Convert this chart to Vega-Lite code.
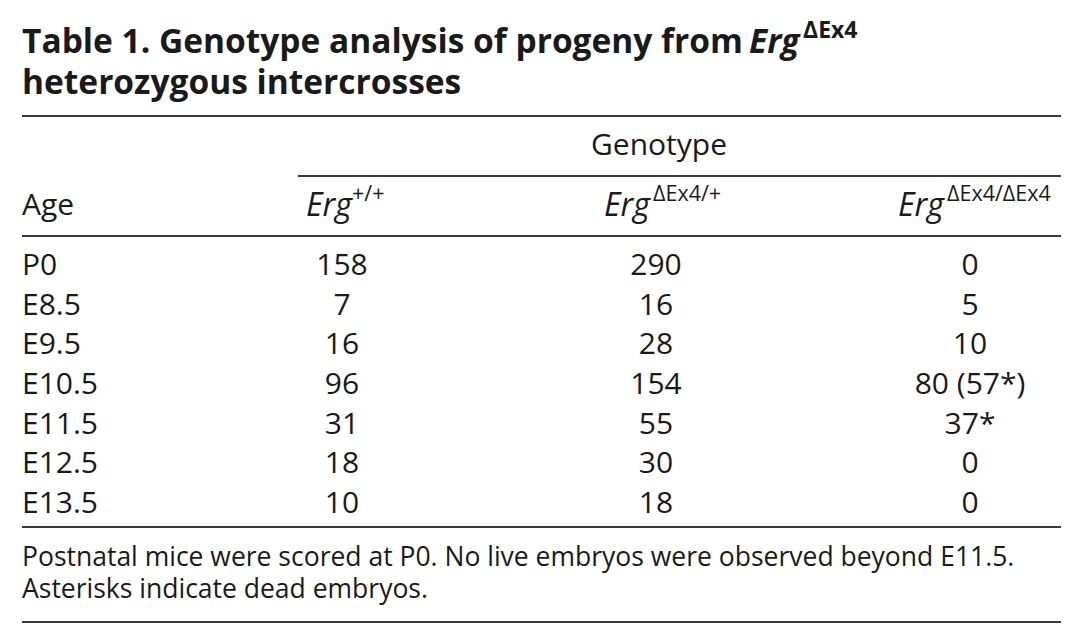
{
  "$schema": "https://vega.github.io/schema/vega-lite/v6.json",
  "width": 1039,
  "height": 639,
  "autosize": {"type": "none"},
  "padding": {"left": 22, "right": 21, "top": 0, "bottom": 0},
  "background": "white",
  "config": {
    "view": {"stroke": null},
    "axis": {"disable": true},
    "text": {"font": "Open Sans", "fontSize": 30, "color": "#1a1a1a"},
    "rule": {"color": "#3a3a3a", "strokeWidth": 2}
  },
  "datasets": {
    "title": [
      {"line": "l1", "text": "Table 1. Genotype analysis of progeny from"},
      {"line": "l2", "text": "heterozygous intercrosses"}
    ],
    "titleGene": [{"gene": "Erg", "allele": "ΔEx4"}],
    "headerRules": [{"rule": "top"}, {"rule": "head"}],
    "spanner": [{"rule": "spanner", "label": "Genotype", "from": "wt", "to": "hom", "center": "het"}],
    "columnHeads": [
      {"column": "Age", "label": "Age", "sup": ""},
      {"column": "wt", "label": "Erg", "sup": "+/+"},
      {"column": "het", "label": "Erg", "sup": "ΔEx4/+"},
      {"column": "hom", "label": "Erg", "sup": "ΔEx4/ΔEx4"}
    ],
    "counts": [
      {"age": "P0", "wt": "158", "het": "290", "hom": "0"},
      {"age": "E8.5", "wt": "7", "het": "16", "hom": "5"},
      {"age": "E9.5", "wt": "16", "het": "28", "hom": "10"},
      {"age": "E10.5", "wt": "96", "het": "154", "hom": "80 (57*)"},
      {"age": "E11.5", "wt": "31", "het": "55", "hom": "37*"},
      {"age": "E12.5", "wt": "18", "het": "30", "hom": "0"},
      {"age": "E13.5", "wt": "10", "het": "18", "hom": "0"}
    ],
    "footnote": [
      {"line": "f1", "text": "Postnatal mice were scored at P0. No live embryos were observed beyond E11.5."},
      {"line": "f2", "text": "Asterisks indicate dead embryos."}
    ],
    "bottomRules": [{"rule": "body"}, {"rule": "foot"}]
  },
  "resolve": {"scale": {"y": "independent"}},
  "layer": [
    {
      "layer": [
        {
          "data": {"name": "title"},
          "mark": {"type": "text", "align": "left", "baseline": "alphabetic", "fontWeight": "bold", "fontSize": 33.5, "dx": -6},
          "encoding": {
            "x": {"datum": "Age", "type": "nominal", "scale": {"type": "point", "domain": ["Age", "wt", "het", "hom"], "range": [6, 948], "padding": 0}},
            "y": {"field": "line", "type": "nominal", "scale": {"type": "point", "domain": ["l1", "l2"], "range": [53, 94], "padding": 0}},
            "text": {"field": "text"}
          }
        },
        {
          "data": {"name": "titleGene"},
          "mark": {"type": "text", "align": "left", "baseline": "alphabetic", "fontWeight": "bold", "fontStyle": "italic", "fontSize": 33.5, "dx": 721},
          "encoding": {
            "x": {"datum": "Age", "type": "nominal"},
            "y": {"datum": "l1", "type": "nominal"},
            "text": {"field": "gene"}
          }
        },
        {
          "data": {"name": "titleGene"},
          "mark": {"type": "text", "align": "left", "baseline": "alphabetic", "fontWeight": "bold", "fontSize": 23, "dx": 775, "dy": -15},
          "encoding": {
            "x": {"datum": "Age", "type": "nominal"},
            "y": {"datum": "l1", "type": "nominal"},
            "text": {"field": "allele"}
          }
        }
      ]
    },
    {
      "layer": [
        {
          "data": {"name": "headerRules"},
          "mark": {"type": "rule"},
          "encoding": {
            "y": {"field": "rule", "type": "nominal", "scale": {"type": "point", "domain": ["top", "genotype", "spanner", "columns", "head"], "range": [116, 236], "padding": 0}}
          }
        },
        {
          "data": {"name": "spanner"},
          "mark": {"type": "rule", "xOffset": -44, "x2Offset": 91},
          "encoding": {
            "x": {"field": "from", "type": "nominal"},
            "x2": {"field": "to"},
            "y": {"field": "rule", "type": "nominal"}
          }
        },
        {
          "data": {"name": "spanner"},
          "mark": {"type": "text", "align": "center", "baseline": "middle", "dx": 3},
          "encoding": {
            "x": {"field": "center", "type": "nominal"},
            "y": {"datum": "genotype", "type": "nominal"},
            "text": {"field": "label"}
          }
        },
        {
          "data": {"name": "columnHeads"},
          "transform": [{"filter": "datum.column == 'Age'"}],
          "mark": {"type": "text", "align": "left", "baseline": "middle", "dx": -6},
          "encoding": {
            "x": {"field": "column", "type": "nominal"},
            "y": {"datum": "columns", "type": "nominal"},
            "text": {"field": "label"}
          }
        },
        {
          "data": {"name": "columnHeads"},
          "transform": [{"filter": "datum.column == 'wt'"}],
          "mark": {"type": "text", "align": "left", "baseline": "middle", "fontStyle": "italic", "fontSize": 32, "dx": -36},
          "encoding": {
            "x": {"field": "column", "type": "nominal"},
            "y": {"datum": "columns", "type": "nominal"},
            "text": {"field": "label"}
          }
        },
        {
          "data": {"name": "columnHeads"},
          "transform": [{"filter": "datum.column == 'wt'"}],
          "mark": {"type": "text", "align": "left", "baseline": "middle", "fontSize": 21.5, "dx": 10, "dy": -11},
          "encoding": {
            "x": {"field": "column", "type": "nominal"},
            "y": {"datum": "columns", "type": "nominal"},
            "text": {"field": "sup"}
          }
        },
        {
          "data": {"name": "columnHeads"},
          "transform": [{"filter": "datum.column == 'het'"}],
          "mark": {"type": "text", "align": "left", "baseline": "middle", "fontStyle": "italic", "fontSize": 32, "dx": -52},
          "encoding": {
            "x": {"field": "column", "type": "nominal"},
            "y": {"datum": "columns", "type": "nominal"},
            "text": {"field": "label"}
          }
        },
        {
          "data": {"name": "columnHeads"},
          "transform": [{"filter": "datum.column == 'het'"}],
          "mark": {"type": "text", "align": "left", "baseline": "middle", "fontSize": 21.5, "dx": -3, "dy": -11},
          "encoding": {
            "x": {"field": "column", "type": "nominal"},
            "y": {"datum": "columns", "type": "nominal"},
            "text": {"field": "sup"}
          }
        },
        {
          "data": {"name": "columnHeads"},
          "transform": [{"filter": "datum.column == 'hom'"}],
          "mark": {"type": "text", "align": "left", "baseline": "middle", "fontStyle": "italic", "fontSize": 32, "dx": -72},
          "encoding": {
            "x": {"field": "column", "type": "nominal"},
            "y": {"datum": "columns", "type": "nominal"},
            "text": {"field": "label"}
          }
        },
        {
          "data": {"name": "columnHeads"},
          "transform": [{"filter": "datum.column == 'hom'"}],
          "mark": {"type": "text", "align": "left", "baseline": "middle", "fontSize": 21.5, "dx": -23, "dy": -11},
          "encoding": {
            "x": {"field": "column", "type": "nominal"},
            "y": {"datum": "columns", "type": "nominal"},
            "text": {"field": "sup"}
          }
        }
      ]
    },
    {
      "layer": [
        {
          "data": {"name": "counts"},
          "mark": {"type": "text", "align": "left", "baseline": "alphabetic", "dx": -6},
          "encoding": {
            "x": {"datum": "Age", "type": "nominal"},
            "y": {"field": "age", "type": "nominal", "scale": {"type": "point", "domain": ["P0", "E8.5", "E9.5", "E10.5", "E11.5", "E12.5", "E13.5"], "range": [275, 513], "padding": 0}},
            "text": {"field": "age"}
          }
        },
        {
          "data": {"name": "counts"},
          "transform": [{"fold": ["wt", "het", "hom"], "as": ["genotype", "count"]}],
          "mark": {"type": "text", "align": "center", "baseline": "alphabetic"},
          "encoding": {
            "x": {"field": "genotype", "type": "nominal"},
            "y": {"field": "age", "type": "nominal"},
            "text": {"field": "count"}
          }
        }
      ]
    },
    {
      "layer": [
        {
          "data": {"name": "footnote"},
          "mark": {"type": "text", "align": "left", "baseline": "alphabetic", "fontSize": 26.5, "dx": -6},
          "encoding": {
            "x": {"datum": "Age", "type": "nominal"},
            "y": {"field": "line", "type": "nominal", "scale": {"type": "point", "domain": ["f1", "f2"], "range": [566, 598], "padding": 0}},
            "text": {"field": "text"}
          }
        }
      ]
    },
    {
      "layer": [
        {
          "data": {"name": "bottomRules"},
          "mark": {"type": "rule"},
          "encoding": {
            "y": {"field": "rule", "type": "nominal", "scale": {"type": "point", "domain": ["body", "foot"], "range": [527, 622], "padding": 0}}
          }
        }
      ]
    }
  ]
}
